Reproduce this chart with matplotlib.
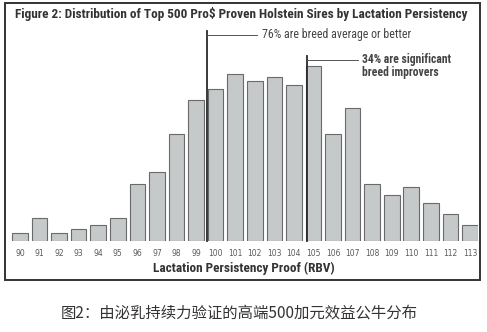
import matplotlib
matplotlib.use('Agg')
import matplotlib.pyplot as plt
from matplotlib.patches import Rectangle

# RBV categories and number of sires
rbv = list(range(90, 114))
sires = [2, 6, 2, 3, 4, 6, 15, 18, 28, 37, 40, 44,
         42, 43, 41, 46, 28, 35, 15, 12, 14, 10, 7, 4]

title = "Figure 2: Distribution of Top 500 Pro$ Proven Holstein Sires by Lactation Persistency"
xlabel = "Lactation Persistency Proof (RBV)"
note1 = "76% are breed average or better"
note2 = "34% are significant\nbreed improvers"
caption = "图2：由泌乳持续力验证的高端500加元效益公牛分布"

narrow = ['DejaVu Sans Condensed', 'Roboto Condensed', 'Open Sans Condensed',
          'Liberation Sans Narrow', 'DejaVu Sans']
W, H = 487, 332

fig = plt.figure(figsize=(W / 100, H / 100), dpi=100)
fig.patch.set_facecolor('white')

# outer frame
fig.add_artist(Rectangle((5 / W, 1 - 280 / H), 475 / W, 277 / H, transform=fig.transFigure,
                         fill=False, edgecolor='#333333', lw=1.4))

ax = fig.add_axes([10 / W, 1 - 240.5 / H, 468 / W, 208.5 / H])
ax.bar(rbv, sires, width=0.8, color='#c5c9c9', edgecolor='#6a6a6a', lw=0.8)
ax.set_xlim(89.49, 113.41)
ax.set_ylim(0, 55)
for s in ax.spines.values():
    s.set_visible(False)
ax.set_yticks([])
ax.set_xticks(rbv)
ax.set_xticklabels([str(v) for v in rbv], fontsize=5.5, color='#5a5a5a')
ax.tick_params(axis='x', length=0, pad=6)
ax.set_xlabel(xlabel, fontsize=9.5, fontweight='bold', color='#333333',
              family=narrow, fontstretch='condensed', labelpad=3)

# annotation brackets
ax.plot([99.57, 99.57], [0, 55.3], color='#2a2a2a', lw=1.3, clip_on=False)
ax.plot([99.57, 102.1], [54.3, 54.3], color='#555555', lw=0.7, clip_on=False)
ax.text(102.35, 54.3, note1, fontsize=8.6, color='#444444', family=narrow,
        fontstretch='condensed', va='center', ha='left')
ax.plot([104.65, 104.65], [0, 48.7], color='#2a2a2a', lw=1.3, clip_on=False)
ax.plot([104.65, 107.3], [47.6, 47.6], color='#555555', lw=0.7, clip_on=False)
ax.text(107.5, 46.0, note2, fontsize=8.4, fontweight='bold', color='#444444',
        family=narrow, fontstretch='condensed', va='center', ha='left', linespacing=1.0)

fig.text(241 / W, 1 - 14 / H, title, fontsize=9.5, fontweight='bold', color='#333333',
         family=narrow, fontstretch='condensed', ha='center', va='center')
fig.text(239 / W, 1 - 313 / H, caption, fontsize=11.1, color='#333333',
         family=['Noto Sans CJK SC', 'DejaVu Sans'], ha='center', va='center')

fig.savefig('out.png', dpi=100)
